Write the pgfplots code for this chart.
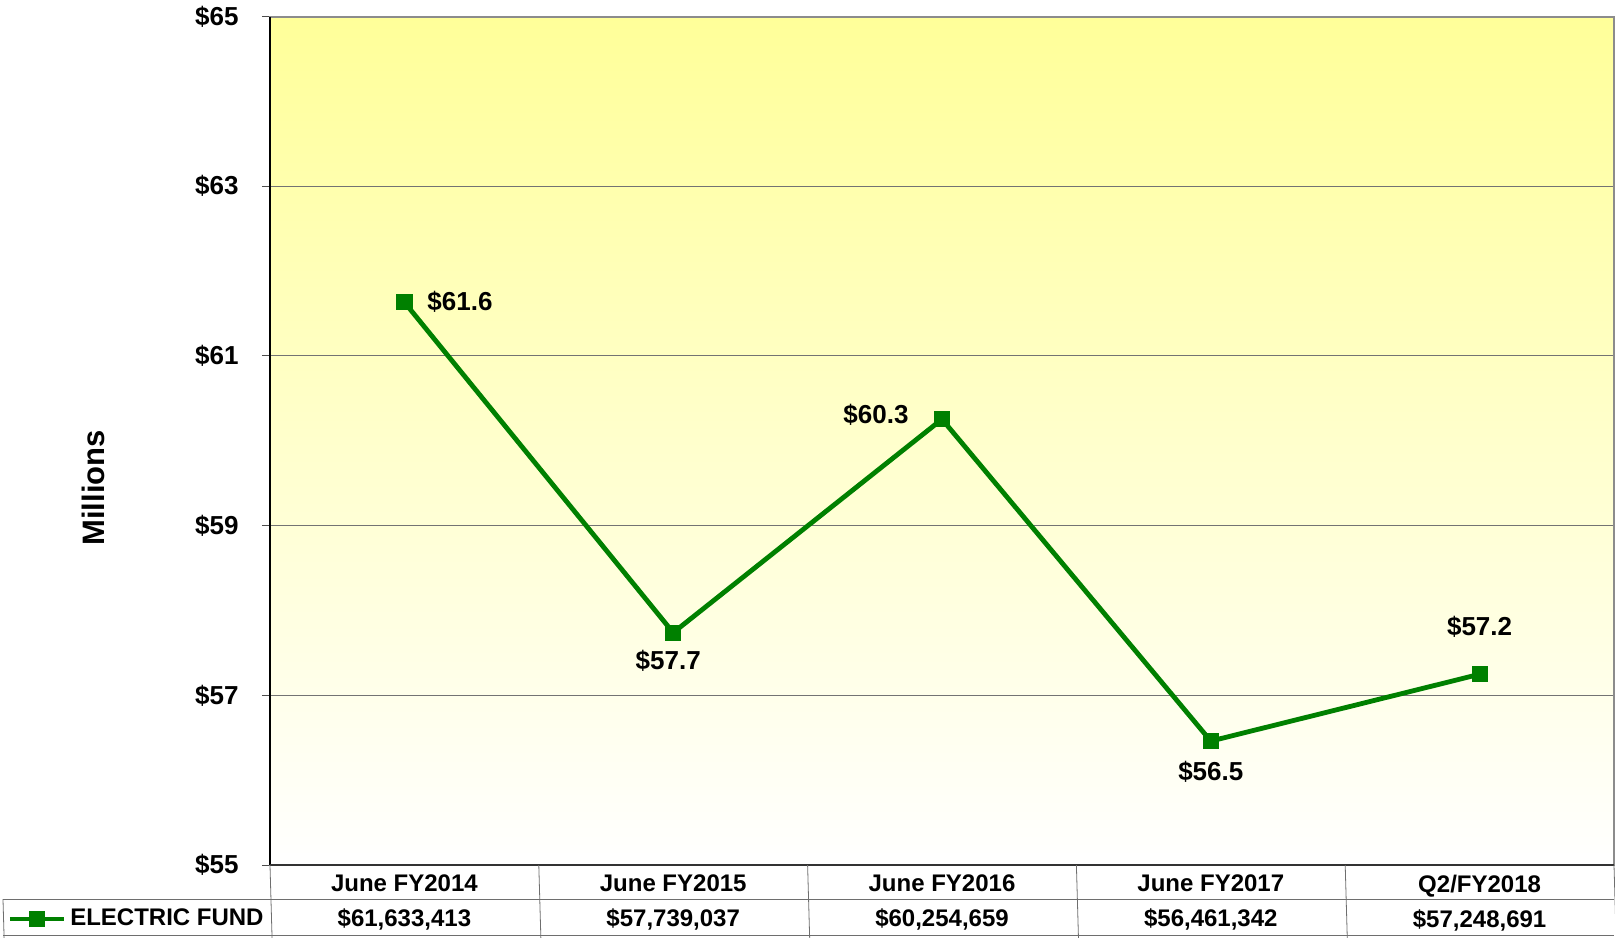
\documentclass[border=0pt]{standalone}
\usepackage{fontspec}
\setmainfont{Liberation Sans}
\usepackage{pgfplots}
\usepackage{pgfplotstable}
\pgfplotsset{compat=1.18}

\definecolor{fund}{RGB}{0,128,0}
\definecolor{paleyellow}{RGB}{255,255,153}
\definecolor{rule}{RGB}{110,110,110}

% x, value (millions), label, label offset (pt)
\pgfplotstableread{
x y lbl dx dy
0 61.633413 61.6 27.8 0
1 57.739037 57.7 -2.5 -13.9
2 60.254659 60.3 -33 2
3 56.461342 56.5 0 -15.5
4 57.248691 57.2 0 23.7
}\fundtable

\begin{document}
\begin{tikzpicture}
\begin{axis}[
    name=ax,
    scale only axis,
    width=672pt, height=424.25pt,
    clip=false,
    xmin=-0.5, xmax=4.5,
    ymin=55, ymax=65,
    axis background/.style={shade, top color=paleyellow, bottom color=white},
    xtick={0,...,4},
    xticklabels={{June FY2014\\\$61,633,413},{June FY2015\\\$57,739,037},
                 {June FY2016\\\$60,254,659},{June FY2017\\\$56,461,342},
                 {Q2/FY2018\\\$57,248,691}},
    xticklabel style={align=center, font=\bfseries\fontsize{12}{17.5}\selectfont, yshift=2.6pt},
    ytick={55,57,...,65},
    yticklabels={\$55,\$57,\$59,\$61,\$63,\$65},
    yticklabel style={font=\bfseries\fontsize{13}{15}\selectfont, inner sep=0pt, xshift=-11.5pt},
    ymajorgrids,
    grid style={black!55, line width=0.5pt},
    axis line style={black!45, line width=1pt},
    tick align=outside,
    x tick style={draw=none},
    y tick style={black!70, line width=0.5pt},
    major tick length=4pt,
    ylabel={Millions},
    every axis y label/.style={at={([xshift=-88.5pt,yshift=-23.5pt]axis description cs:0,0.5)},
        rotate=90, anchor=center, font=\bfseries\fontsize{15.5}{17}\selectfont},
    legend style={draw=none, fill=none, inner sep=0pt,
        at={(axis description cs:0,0)}, anchor=east, xshift=-1pt, yshift=-27pt,
        font=\bfseries\fontsize{12}{14}\selectfont},
    legend image code/.code={\draw[mark repeat=2, mark phase=2]
        plot coordinates {(-2pt,0pt) (11.5pt,0pt) (25pt,0pt)};},
]
\addplot[color=fund, line width=2.4pt, mark=square*,
    mark size=3.8pt, mark options={solid, line width=0.4pt},
    point meta=explicit symbolic,
    nodes near coords={\$\pgfplotspointmeta},
    visualization depends on={\thisrow{dx} \as \dx},
    visualization depends on={\thisrow{dy} \as \dy},
    every node near coord/.append style={anchor=center, xshift=\dx, yshift=\dy,
        text=black, font=\bfseries\fontsize{13}{15}\selectfont}]
    table[x=x, y=y, meta=lbl] {\fundtable};
\addlegendentry{ELECTRIC FUND}

% frame edges in black
\draw[black, line width=1pt] (rel axis cs:0,0) -- (rel axis cs:0,1);
\draw[black!80, line width=1pt] (rel axis cs:0,0) -- (rel axis cs:1,0);

% data table grid
\pgfplotsinvokeforeach{0.5,1.5,2.5,3.5}{\draw[rule] (axis cs:#1,55) -- ++(0,-35pt);}
\draw[rule] (rel axis cs:0,0) -- ++(0,-35pt);
\draw[rule] (rel axis cs:1,0) -- ++(0,-35pt);
\draw[rule] ([xshift=-133.5pt,yshift=-17pt]rel axis cs:0,0) -- ([yshift=-17pt]rel axis cs:1,0);
\draw[rule] ([xshift=-133.5pt,yshift=-35pt]rel axis cs:0,0) -- ([yshift=-35pt]rel axis cs:1,0);
\draw[rule] ([xshift=-133.5pt,yshift=-17pt]rel axis cs:0,0) -- ++(0,-18pt);
\end{axis}
\pgfresetboundingbox
\path ([xshift=-135pt,yshift=-36pt]ax.south west) rectangle ([xshift=0.5pt,yshift=8.25pt]ax.north east);
\end{tikzpicture}
\end{document}
